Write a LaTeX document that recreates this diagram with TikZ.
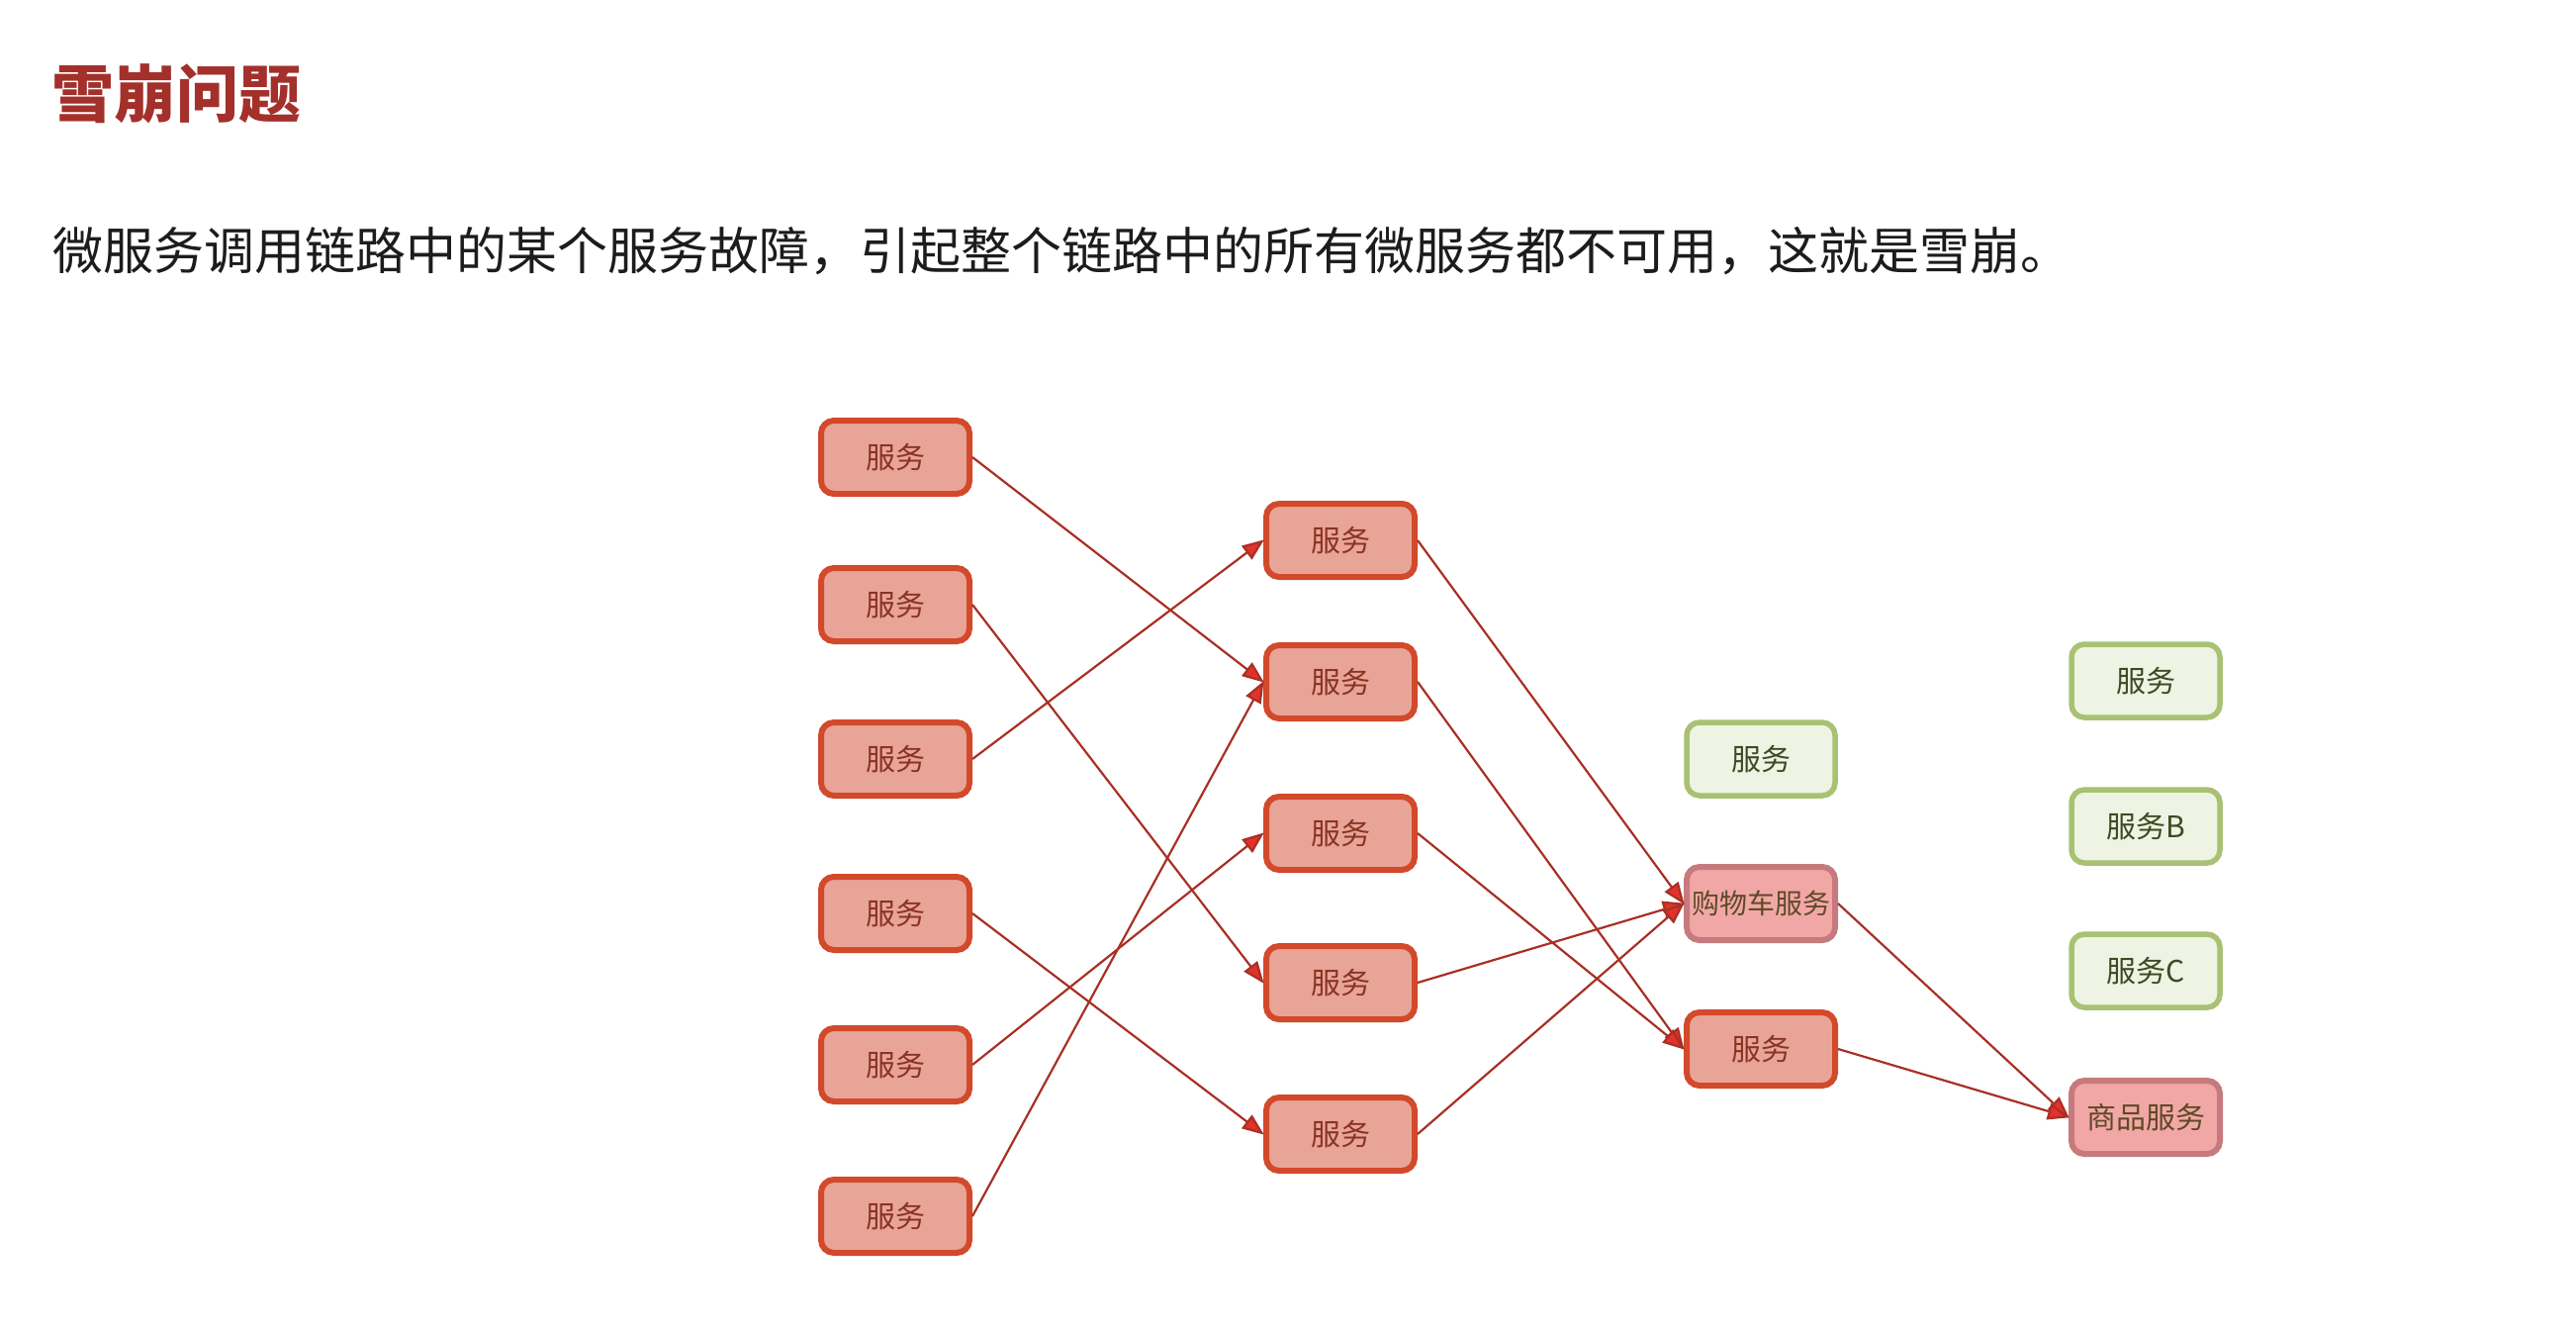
\documentclass[tikz,border=0pt]{standalone}
\usepackage{fontspec}
\newfontfamily\cjk{Noto Sans CJK SC}
\usetikzlibrary{arrows.meta}

\definecolor{titlered}{HTML}{A3302B}
\definecolor{bodyblack}{HTML}{1C1C1C}
\definecolor{svcfill}{HTML}{E8A597}
\definecolor{svcedge}{HTML}{D2492B}
\definecolor{svctext}{HTML}{8A3324}
\definecolor{hotfill}{HTML}{F2A7A7}
\definecolor{hotedge}{HTML}{C77A7E}
\definecolor{hottext}{HTML}{5E4A26}
\definecolor{okfill}{HTML}{EEF3E3}
\definecolor{okedge}{HTML}{A8C173}
\definecolor{oktext}{HTML}{3E4A24}
\definecolor{callline}{HTML}{A83024}
\definecolor{calltip}{HTML}{E4312B}

\tikzset{
  svcbox/.style={draw=svcedge, fill=svcfill, line width=6pt, rounded corners=13pt,
    minimum width=150pt, minimum height=74pt, inner sep=0pt, text=svctext,
    font=\cjk\fontsize{30}{30}\selectfont},
  hotbox/.style={svcbox, draw=hotedge, fill=hotfill, text=hottext},
  okbox/.style={svcbox, draw=okedge, fill=okfill, text=oktext, line width=5.5pt},
  call/.style={draw=callline, line width=2.2pt,
    -{Triangle[length=22pt,width=17pt,fill=calltip]}, shorten >=-1pt}
}

\begin{document}
\begin{tikzpicture}[x=1pt,y=-1pt]
  \useasboundingbox (0,0) rectangle (2604,1346);
  % heading and sentence
  \node[anchor=west, inner sep=0pt, text=titlered, font=\cjk\bfseries\fontsize{63}{63}\selectfont]
    (title) at (52,95) {雪崩问题};
  \node[anchor=west, inner sep=0pt, text=bodyblack, font=\cjk\fontsize{51}{51}\selectfont]
    (intro) at (53,254) {微服务调用链路中的某个服务故障，引起整个链路中的所有微服务都不可用，这就是雪崩。};

  % first layer
  \foreach \i/\y in {1/462,2/611,3/767,4/923,5/1076,6/1229} {
    \node[svcbox] (a\i) at (905,\y) {服务};
  }
  % second layer
  \foreach \i/\y in {1/546,2/689,3/842,4/993,5/1146} {
    \node[svcbox] (b\i) at (1355,\y) {服务};
  }
  % third layer
  \node[okbox] (c1) at (1780,767) {服务};
  \node[hotbox, font=\cjk\fontsize{28}{28}\selectfont] (cart) at (1780,913) {购物车服务};
  \node[svcbox] (c3) at (1780,1060) {服务};
  % last layer
  \node[okbox] (d1) at (2169,688) {服务};
  \node[okbox] (dB) at (2169,835) {服务B};
  \node[okbox] (dC) at (2169,981) {服务C};
  \node[hotbox] (goods) at (2169,1129) {商品服务};

  % calls
  \foreach \s/\t in {a1/b2,a2/b4,a3/b1,a4/b5,a5/b3,a6/b2,
                     b1/cart,b2/c3,b3/c3,b4/cart,b5/cart,
                     cart/goods,c3/goods} {
    \draw[call] (\s.east) -- (\t.west);
  }
\end{tikzpicture}
\end{document}
